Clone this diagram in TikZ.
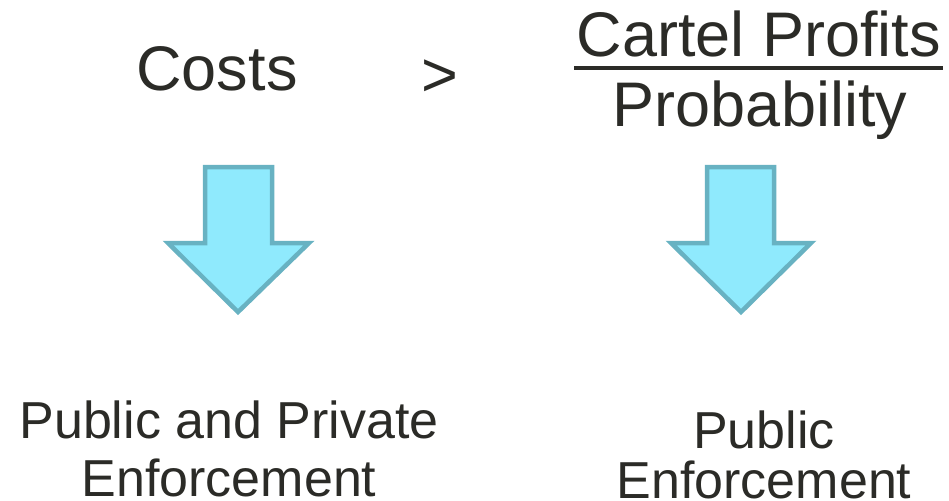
\documentclass[tikz,border=0pt]{standalone}
\usepackage{fontspec}
\setmainfont{Liberation Sans}
\definecolor{txt}{HTML}{2B2B27}
\definecolor{arrfill}{HTML}{8FEAFD}
\definecolor{arrline}{HTML}{68B2C2}
\tikzset{
  big/.style={font=\fontsize{63}{70}\selectfont, text=txt, inner sep=0pt, anchor=base},
  small/.style={font=\fontsize{52}{58}\selectfont, text=txt, inner sep=0pt, anchor=base, align=center},
  downarrow/.style={fill=arrfill, draw=arrline, line width=4.5pt, line join=miter}
}
\begin{document}
\begin{tikzpicture}[x=1pt,y=-1pt]
\useasboundingbox (0,0) rectangle (949,500);
\node[big] (costs) at (217,91) {Costs};
\node[big] (gt) at (440,96) {>};
\node[big] (cartel) at (759,57) {Cartel Profits};
\draw[txt, line width=4pt] (574,68) -- (943,68);
\node[big] (prob) at (760,126) {Probability};
% arrows
\draw[downarrow] (205,167) -- (272,167) -- (272,243) -- (309,243) -- (238,312) -- (168,243) -- (205,243) -- cycle;
\draw[downarrow] (707,167) -- (774,167) -- (774,243) -- (811,243) -- (741,312) -- (671,243) -- (707,243) -- cycle;
\node[small] (left) at (229,496) {Public and Private\\Enforcement};
\node[small, font=\fontsize{52}{50}\selectfont] (right) at (764,498) {Public\\Enforcement};
\end{tikzpicture}
\end{document}
